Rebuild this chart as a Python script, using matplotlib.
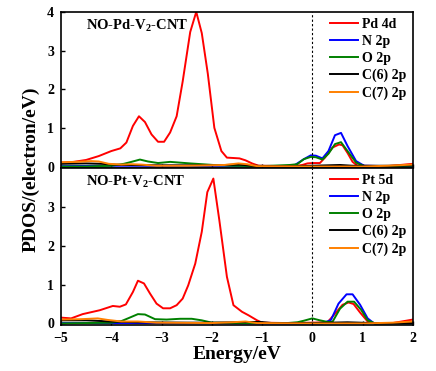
import numpy as np
import matplotlib
matplotlib.use("Agg")
import matplotlib.pyplot as plt

plt.rcParams['font.family'] = ['Liberation Serif', 'DejaVu Serif']
plt.rcParams['font.weight'] = 'bold'
plt.rcParams['mathtext.fontset'] = 'custom'
plt.rcParams['mathtext.rm'] = 'Liberation Serif:bold'
plt.rcParams['mathtext.it'] = 'Liberation Serif:bold'

# ---- top panel: NO-Pd-V2-CNT ----
pd_e = [-5.0, -4.75, -4.5, -4.25, -4.0, -3.82, -3.7, -3.57, -3.45, -3.33, -3.2, -3.07,
        -2.95, -2.83, -2.7, -2.58, -2.43, -2.31, -2.2, -2.08, -1.95, -1.81, -1.7, -1.57,
        -1.45, -1.33, -1.2, -1.07, -0.5, -0.3, -0.2, -0.1, 0.0, 0.15, 0.25, 0.4, 0.53,
        0.6, 0.7, 0.8, 0.9, 1.5, 1.75, 2.0]
pd_4d = [0.10, 0.12, 0.17, 0.27, 0.40, 0.47, 0.62, 1.05, 1.30, 1.15, 0.83, 0.64,
         0.64, 0.88, 1.30, 2.20, 3.48, 4.00, 3.45, 2.40, 1.00, 0.40, 0.23, 0.22,
         0.21, 0.16, 0.08, 0.02, 0.01, 0.02, 0.04, 0.08, 0.09, 0.09, 0.23, 0.49, 0.57,
         0.55, 0.35, 0.12, 0.02, 0.01, 0.04, 0.07]

n1_e = [-5.0, -4.0, -2.0, -0.6, -0.37, -0.17, -0.03, 0.07, 0.2, 0.32, 0.45, 0.57, 0.7, 0.87, 1.03, 2.0]
n1_2p = [0.01, 0.02, 0.02, 0.01, 0.02, 0.19, 0.29, 0.28, 0.21, 0.40, 0.81, 0.87, 0.53, 0.14, 0.02, 0.0]

o1_e = [-5.0, -4.5, -4.0, -3.75, -3.6, -3.43, -3.27, -3.07, -2.83, -2.63, -2.43, -2.2, -1.97,
        -1.6, -1.0, -0.45, -0.3, -0.17, -0.03, 0.07, 0.2, 0.32, 0.45, 0.57, 0.7, 0.87, 1.03, 1.5, 2.0]
o1_2p = [0.0, 0.0, 0.02, 0.07, 0.12, 0.18, 0.13, 0.09, 0.12, 0.10, 0.08, 0.06, 0.04,
         0.02, 0.01, 0.04, 0.06, 0.19, 0.25, 0.24, 0.18, 0.33, 0.58, 0.63, 0.40, 0.10, 0.01, 0.01, 0.02]

c6a_e = [-5.0, -4.5, -4.2, -3.8, -3.0, -2.0, -1.45, -1.2, -0.5, 0.0, 0.55, 0.8, 1.5, 2.0]
c6a_2p = [0.07, 0.08, 0.07, 0.04, 0.03, 0.03, 0.05, 0.02, 0.01, 0.02, 0.04, 0.02, 0.02, 0.03]

c7a_e = [-5.0, -4.7, -4.4, -4.25, -4.05, -3.8, -3.6, -3.4, -3.1, -2.5, -1.75, -1.47, -1.3,
         -1.1, 0.0, 1.0, 1.5, 2.0]
c7a_2p = [0.11, 0.12, 0.14, 0.13, 0.07, 0.05, 0.06, 0.05, 0.02, 0.02, 0.04, 0.08, 0.06,
          0.01, 0.0, 0.0, 0.02, 0.05]

# ---- bottom panel: NO-Pt-V2-CNT ----
pt_e = [-5.0, -4.8, -4.57, -4.23, -3.97, -3.83, -3.71, -3.57, -3.47, -3.35, -3.23, -3.1,
        -2.97, -2.83, -2.7, -2.58, -2.47, -2.33, -2.2, -2.09, -1.97, -1.85, -1.7, -1.57,
        -1.4, -1.27, -1.1, -1.0, -0.5, 0.0, 0.3, 0.45, 0.6, 0.72, 0.82, 0.95, 1.1, 1.25,
        1.6, 2.0]
pt_5d = [0.15, 0.13, 0.24, 0.34, 0.45, 0.43, 0.49, 0.81, 1.10, 1.03, 0.77, 0.51,
         0.39, 0.39, 0.47, 0.64, 0.98, 1.54, 2.36, 3.38, 3.73, 2.65, 1.20, 0.47,
         0.30, 0.21, 0.08, 0.02, 0.01, 0.02, 0.03, 0.25, 0.48, 0.54, 0.50, 0.28, 0.05, 0.0,
         0.01, 0.10]

n2_e = [-5.0, -3.0, -1.0, 0.2, 0.37, 0.52, 0.68, 0.8, 0.95, 1.1, 1.23, 2.0]
n2_2p = [0.01, 0.01, 0.0, 0.0, 0.09, 0.51, 0.75, 0.75, 0.48, 0.13, 0.0, 0.0]

o2_e = [-5.0, -4.0, -3.8, -3.67, -3.47, -3.33, -3.13, -2.9, -2.63, -2.4, -2.2, -2.0, -1.5,
        -0.5, -0.3, -0.17, 0.0, 0.15, 0.3, 0.4, 0.55, 0.7, 0.83, 0.97, 1.1, 1.25, 2.0]
o2_2p = [0.0, 0.02, 0.06, 0.13, 0.24, 0.23, 0.11, 0.10, 0.12, 0.12, 0.08, 0.02, 0.01,
         0.01, 0.03, 0.07, 0.13, 0.08, 0.04, 0.04, 0.38, 0.56, 0.56, 0.35, 0.08, 0.0, 0.0]

c6b_e = [-5.0, -4.5, -4.0, -3.5, -2.5, -2.0, -1.05, -0.8, 0.0, 0.7, 1.2, 2.0]
c6b_2p = [0.08, 0.08, 0.05, 0.03, 0.02, 0.02, 0.04, 0.01, 0.01, 0.03, 0.01, 0.01]

c7b_e = [-5.0, -4.6, -4.27, -4.07, -3.8, -3.47, -3.1, -2.0, -1.6, -1.33, -1.1, 0.0, 1.0, 1.6, 2.0]
c7b_2p = [0.10, 0.11, 0.13, 0.09, 0.05, 0.05, 0.02, 0.01, 0.03, 0.05, 0.01, 0.0, 0.0, 0.02, 0.05]

colors = ['#ff0000', '#0000ff', '#008000', '#000000', '#ff8000']

fig = plt.figure(figsize=(4.36, 3.71), dpi=100)
ax1 = fig.add_axes([0.14, 0.547, 0.807, 0.421])
ax2 = fig.add_axes([0.14, 0.124, 0.807, 0.423], sharex=ax1)

panels = [
    (ax1, 'NO-Pd-V$_2$-CNT',
     [(pd_e, pd_4d, 'Pd 4d'), (n1_e, n1_2p, 'N 2p'), (o1_e, o1_2p, 'O 2p'),
      (c6a_e, c6a_2p, 'C(6) 2p'), (c7a_e, c7a_2p, 'C(7) 2p')]),
    (ax2, 'NO-Pt-V$_2$-CNT',
     [(pt_e, pt_5d, 'Pt 5d'), (n2_e, n2_2p, 'N 2p'), (o2_e, o2_2p, 'O 2p'),
      (c6b_e, c6b_2p, 'C(6) 2p'), (c7b_e, c7b_2p, 'C(7) 2p')]),
]

for ax, title, curves in panels:
    for (e, d, lab), c in zip(curves, colors):
        ax.plot(e, d, color=c, lw=1.4, label=lab)
    ax.axvline(0, color='black', ls=(0, (2, 2)), lw=0.8)
    ax.set_xlim(-5, 2)
    ax.set_ylim(-0.04, 4)
    ax.text(0.07, 0.91, title, transform=ax.transAxes, fontsize=10.5,
            fontweight='bold', va='center')
    ax.legend(loc='upper right', frameon=False, handlelength=2.0,
              handletextpad=0.3, labelspacing=0.28, borderaxespad=0.15,
              borderpad=0.3, prop={'weight': 'bold', 'size': 10})
    ax.tick_params(direction='in', length=3, width=1, labelsize=10, pad=5)
    for s in ax.spines.values():
        s.set_linewidth(1.2)

ax1.set_yticks([0, 1, 2, 3, 4])
ax2.set_yticks([0, 1, 2, 3])
ax1.tick_params(labelbottom=False)
ax2.set_xticks([-5, -4, -3, -2, -1, 0, 1, 2])
for lab in ax1.get_yticklabels() + ax2.get_yticklabels() + ax2.get_xticklabels():
    lab.set_fontweight('bold')

ax2.set_xlabel('Energy/eV', fontsize=14, fontweight='bold', labelpad=1)
fig.text(0.072, 0.545, 'PDOS/(electron/eV)', rotation=90, fontsize=14,
         fontweight='bold', ha='center', va='center')

fig.savefig('out.png', dpi=100)
